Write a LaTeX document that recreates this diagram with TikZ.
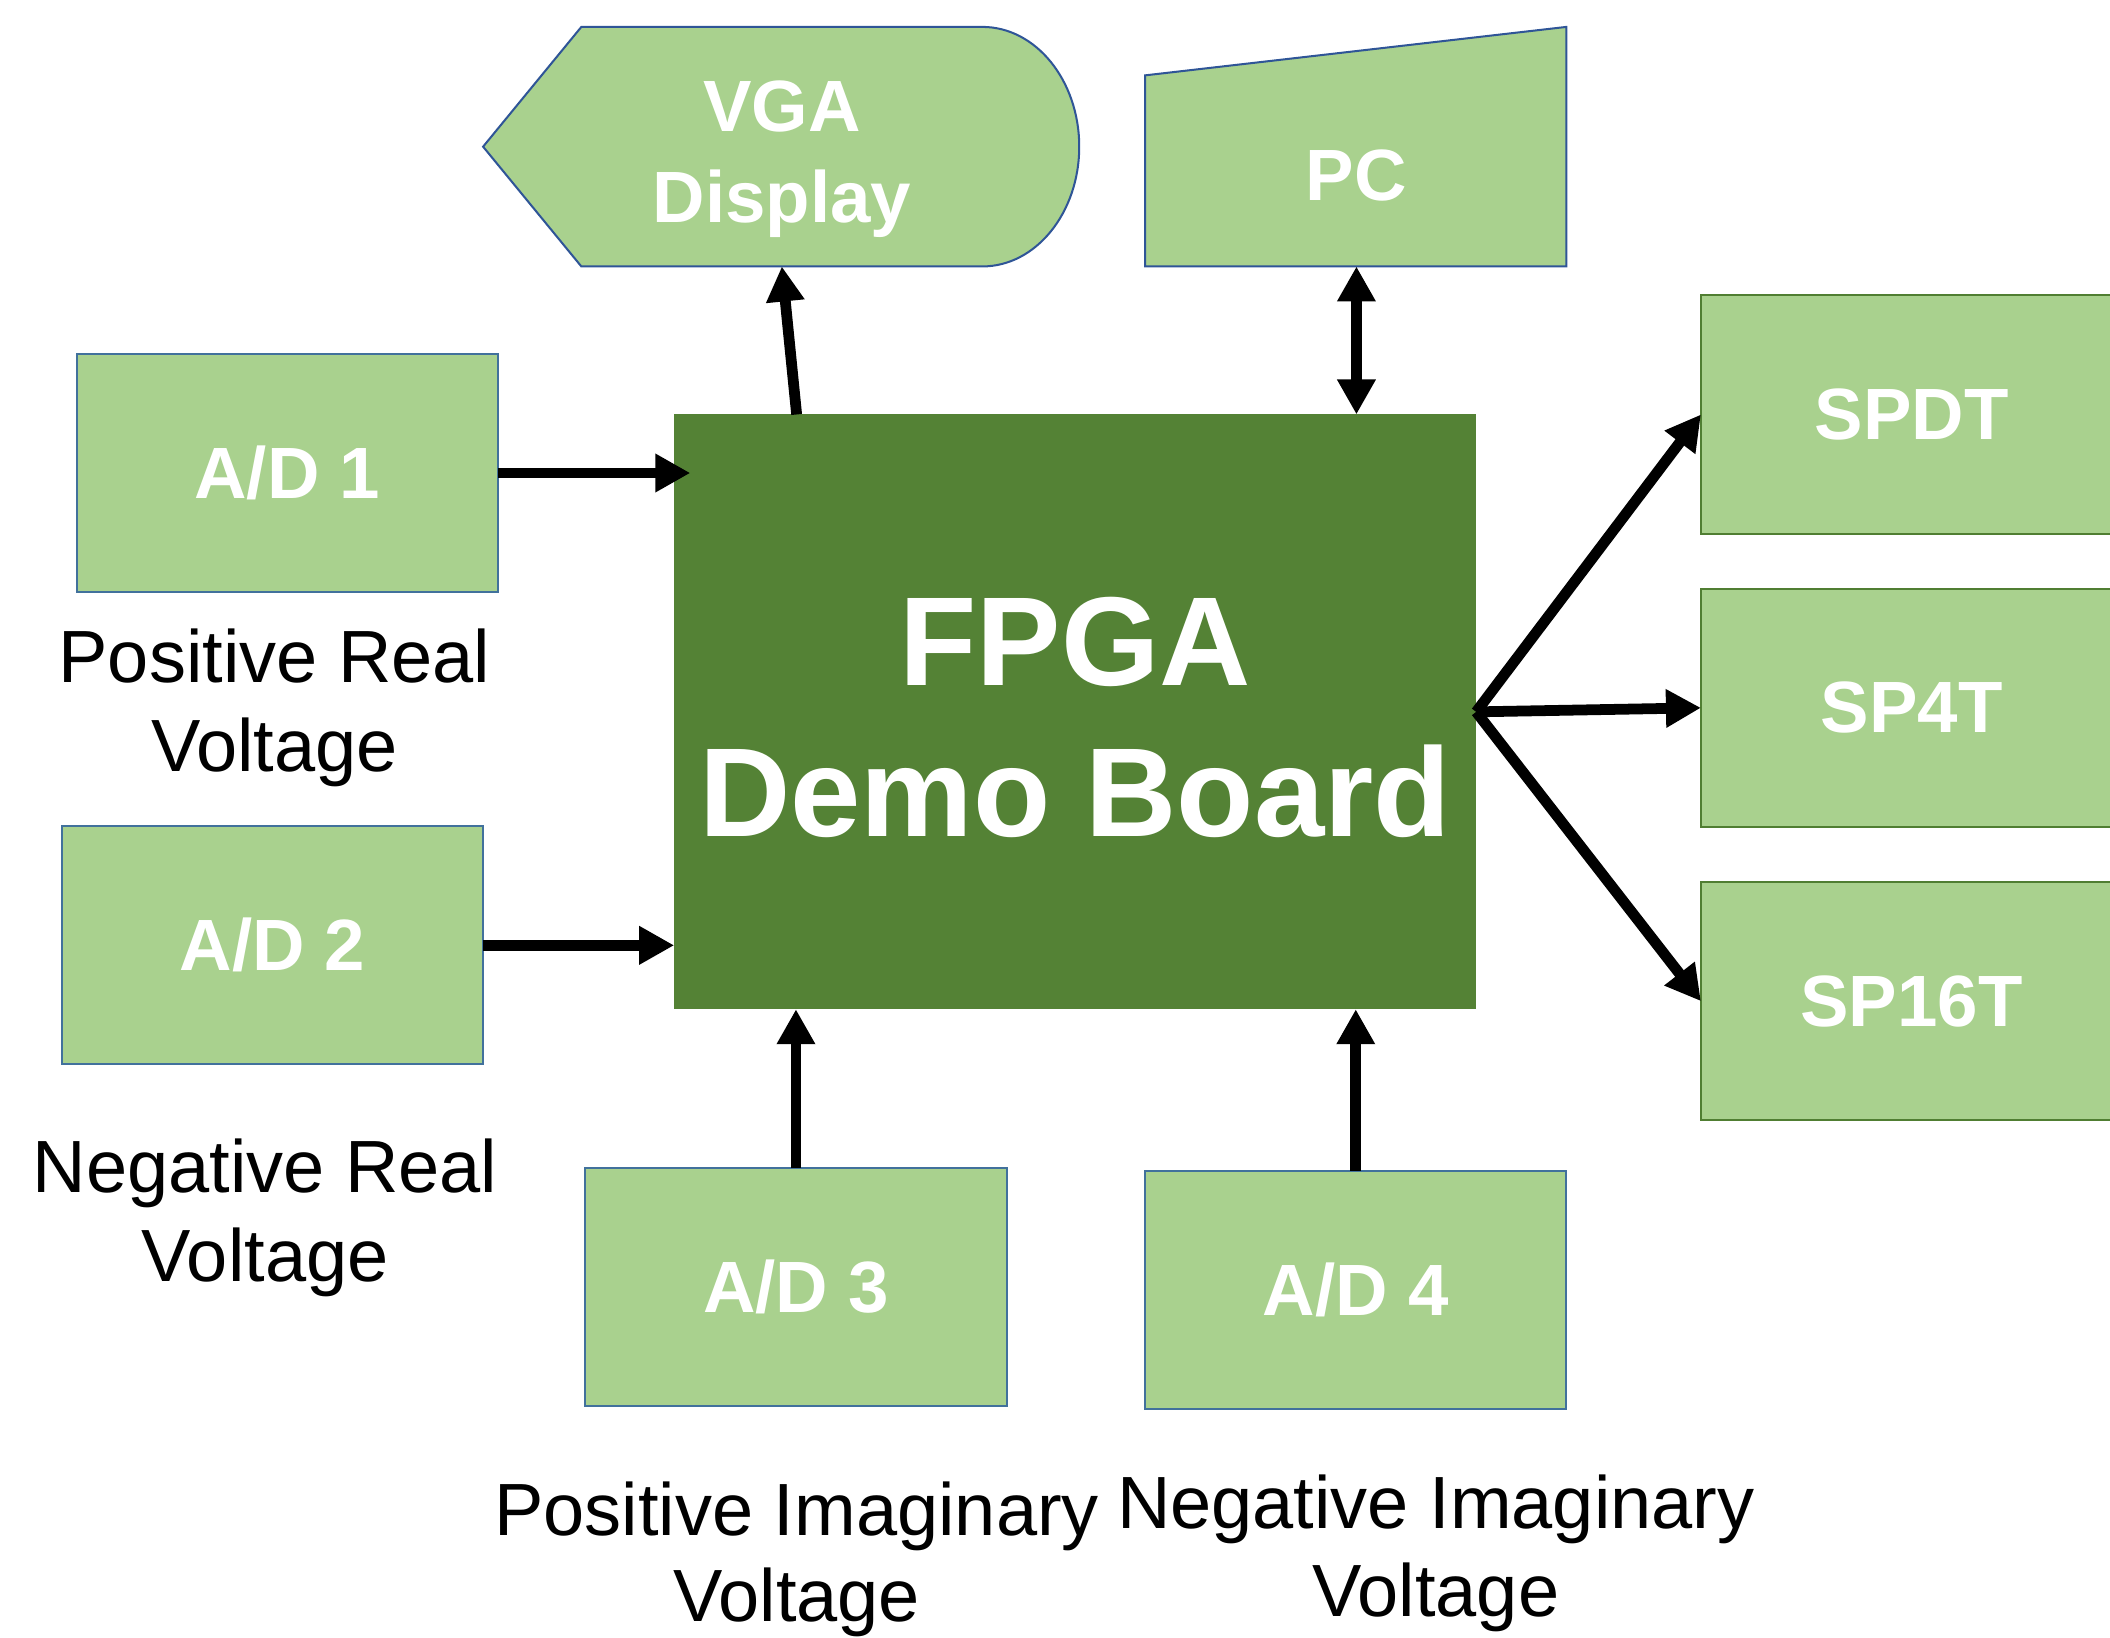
\documentclass[tikz,border=0pt]{standalone}
\usepackage{fontspec}
\setmainfont{Liberation Sans}
\usetikzlibrary{arrows.meta}

\definecolor{boxfill}{HTML}{A9D18E}
\definecolor{boardfill}{HTML}{548235}
\definecolor{adedge}{HTML}{41719C}
\definecolor{outedge}{HTML}{2F5597}
\definecolor{swedge}{HTML}{507E32}

\tikzset{
  unitbox/.style={draw=adedge, line width=1.5pt, fill=boxfill,
    minimum width=313pt, minimum height=177pt, inner sep=0pt, outer sep=0pt,
    text=white, font=\bfseries\fontsize{54}{60}\selectfont},
  switchbox/.style={unitbox, draw=swedge},
  boxtext/.style={anchor=base, inner sep=0pt, text=white,
    font=\bfseries\fontsize{54}{60}\selectfont},
  caption/.style={anchor=base, inner sep=0pt, font=\fontsize{55}{66}\selectfont},
  conn/.style={line width=8pt, -{Triangle[length=26pt,width=27pt]}},
  dualconn/.style={line width=8pt, {Triangle[length=26pt,width=27pt]}-{Triangle[length=26pt,width=27pt]}}
}

\begin{document}
\begin{tikzpicture}[x=1pt,y=-1pt]
\path[use as bounding box] (0,0) rectangle (1568,1217);
\clip (0,0) rectangle (1568,1217);

% central board
\node[fill=boardfill, minimum width=596pt, minimum height=442pt, inner sep=0pt,
      outer sep=0pt] (fpga) at (799,529) {};
\node[text=white, align=center, inner sep=0pt,
      font=\bfseries\fontsize{94}{112}\selectfont] (fpgaLabel) at (799,533)
      {FPGA\\Demo Board};

% display (output shape)
\filldraw[fill=boxfill, draw=outedge, line width=1.5pt]
  (359,109) -- (432,20) -- (730,20)
  arc[start angle=-90, end angle=90, x radius=72, y radius=89]
  -- (432,198) -- cycle;
\node[boxtext] (vgaA) at (581,98) {VGA};
\node[boxtext] (vgaB) at (581,165) {Display};
\coordinate (vgaIn) at (581,198);
\coordinate (fpgaOut) at (592,308);

% PC (manual input shape)
\filldraw[fill=boxfill, draw=outedge, line width=1.5pt]
  (851,198) -- (851,56) -- (1164,20) -- (1164,198) -- cycle;
\node[boxtext] (pc) at (1008,149) {PC};
\coordinate (pcIn) at (1008,198);

% converters
\node[unitbox] (ad1) at (213.5,351.5) {A/D 1};
\node[unitbox] (ad2) at (202.5,702.5) {A/D 2};
\node[unitbox] (ad3) at (591.5,956.5) {A/D 3};
\node[unitbox] (ad4) at (1007.5,958.5) {A/D 4};

% switches
\node[switchbox] (spdt)  at (1420.5,308) {SPDT};
\node[switchbox] (sp4t)  at (1420.5,526) {SP4T};
\node[switchbox] (sp16t) at (1420.5,744) {SP16T};

% captions
\node[caption] (cap1a) at (204,507) {Positive Real};
\node[caption] (cap1b) at (204,573) {Voltage};
\node[caption] (cap2a) at (197,886) {Negative Real};
\node[caption] (cap2b) at (197,952) {Voltage};
\node[caption] (cap3a) at (592,1141) {Positive Imaginary};
\node[caption] (cap3b) at (592,1205) {Voltage};
\node[caption] (cap4a) at (1067,1136) {Negative Imaginary};
\node[caption] (cap4b) at (1067,1201) {Voltage};

% connectors
\draw[conn] (fpgaOut) -- (vgaIn);
\draw[dualconn] (pcIn |- fpga.north) -- (pcIn);
\draw[conn] (ad1.east) -- ([xshift=12pt]ad1.east -| fpga.west);
\draw[conn] (ad2.east) -- (ad2.east -| fpga.west);
\draw[conn] (ad3.north) -- (ad3.north |- fpga.south);
\draw[conn] (ad4.north) -- (ad4.north |- fpga.south);
\draw[conn] (fpga.east) -- (spdt.west);
\draw[conn] (fpga.east) -- (sp4t.west);
\draw[conn] (fpga.east) -- (sp16t.west);
\end{tikzpicture}
\end{document}
